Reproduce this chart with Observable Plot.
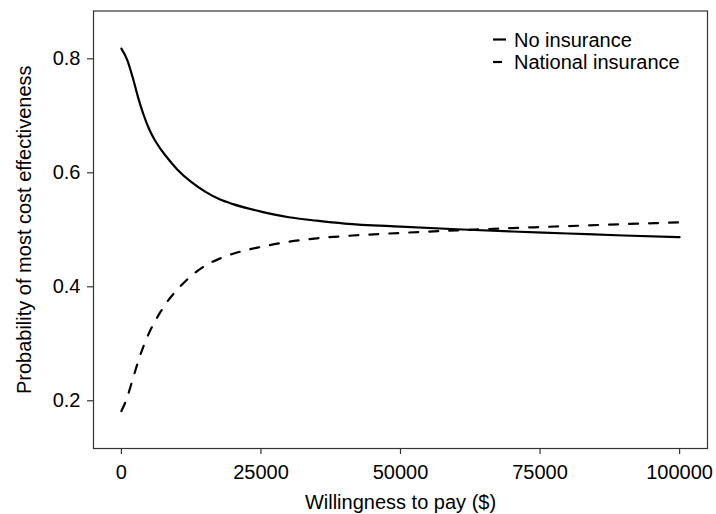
<!DOCTYPE html>
<html>
<head>
<meta charset="utf-8">
<script src="https://cdn.jsdelivr.net/npm/d3@7"></script>
<script src="https://cdn.jsdelivr.net/npm/@observablehq/plot@0.6"></script>
<style>
  html, body { margin: 0; padding: 0; background: #fff; }
  #wrap { position: relative; width: 716px; height: 514px; font-family: "Liberation Sans", Arial, sans-serif; }
  #wrap svg.plot g[aria-label="x-axis tick label"],
  #wrap svg.plot g[aria-label="y-axis tick label"] { fill: #4d4d4d; font-size: 20px; }
  #wrap svg.plot g[aria-label="x-axis label"],
  #wrap svg.plot g[aria-label="y-axis label"] { fill: #000; font-size: 22px; }
  #legend { position: absolute; left: 0; top: 0; pointer-events: none; }
</style>
</head>
<body>
<div id="wrap"></div>
<script>
// ---- data ----
const wtp = [0, 1000, 2000, 3000, 4000, 5000, 6000, 7000, 8000, 10000, 12500, 15000, 17500,
             20000, 25000, 30000, 35000, 40000, 50000, 60000, 70000, 80000, 90000, 100000];
const noInsurance = [0.818, 0.799, 0.768, 0.732, 0.701, 0.676, 0.657, 0.642, 0.629, 0.606, 0.584, 0.567, 0.554,
                     0.545, 0.532, 0.522, 0.516, 0.511, 0.5055, 0.501, 0.497, 0.4935, 0.490, 0.487];
const nationalInsurance = [0.182, 0.205, 0.237, 0.269, 0.297, 0.320, 0.339, 0.356, 0.371, 0.395, 0.419, 0.437, 0.449,
                           0.458, 0.470, 0.479, 0.485, 0.489, 0.4945, 0.499, 0.503, 0.5065, 0.510, 0.513];
const seriesNames = ["No insurance", "National insurance"];
const xTicks = [0, 25000, 50000, 75000, 100000];
const yTicks = [0.2, 0.4, 0.6, 0.8];
const xLabel = "Willingness to pay ($)";
const yLabel = "Probability of most cost effectiveness";

// ---- build table ----
const seriesValues = [noInsurance, nationalInsurance];
const rows = [];
seriesNames.forEach((name, s) => {
  wtp.forEach((w, i) => rows.push({wtp: w, p: seriesValues[s][i], strategy: name}));
});

const dashFor = {"No insurance": null, "National insurance": "9,11"};
const lineWidth = 2.2;

const chart = Plot.plot({
  width: 716,
  height: 514,
  marginLeft: 93,
  marginRight: 9,
  marginTop: 10.5,
  marginBottom: 66,
  style: {fontFamily: '"Liberation Sans", Arial, sans-serif', fontSize: "20px", background: "#fff", overflow: "visible"},
  x: {domain: [-5000, 105000]},
  y: {domain: [0.1163, 0.8839]},
  marks: [
    ...seriesNames.map(name => Plot.line(rows.filter(d => d.strategy === name), {
      x: "wtp", y: "p", stroke: "#000", strokeWidth: lineWidth, curve: "monotone-x",
      strokeDasharray: dashFor[name] || undefined
    })),
    Plot.frame({stroke: "#333", strokeWidth: 1.2}),
    Plot.axisX({ticks: xTicks, tickFormat: d3.format("d"), tickSize: 6, tickPadding: 10,
      stroke: "#333", strokeWidth: 1.2, label: xLabel, labelAnchor: "center", labelOffset: 60, labelArrow: false}),
    Plot.axisY({ticks: yTicks, tickFormat: d3.format(".1f"), tickSize: 6, tickPadding: 7,
      stroke: "#333", strokeWidth: 1.2, label: yLabel, labelAnchor: "center", labelOffset: 77, labelArrow: false})
  ]
});

const wrap = document.getElementById("wrap");
wrap.appendChild(chart);

// ---- legend overlay (inside panel, top right) ----
const leg = d3.create("svg").attr("id", "legend").attr("width", 716).attr("height", 514);
const rowsY = [39.5, 62];
const g = leg.selectAll("g").data(seriesNames).join("g")
  .attr("transform", (d, i) => `translate(493,${rowsY[i]})`);
g.append("line").attr("x1", 0).attr("x2", 13).attr("y1", 0).attr("y2", 0)
  .attr("stroke", "#000").attr("stroke-width", lineWidth)
  .attr("stroke-dasharray", d => dashFor[d]);
g.append("text").attr("x", 21).attr("y", 0).attr("dy", "0.35em")
  .attr("font-family", '"Liberation Sans", Arial, sans-serif').attr("font-size", 20)
  .attr("fill", "#000").text(d => d);
wrap.appendChild(leg.node());
</script>
</body>
</html>
